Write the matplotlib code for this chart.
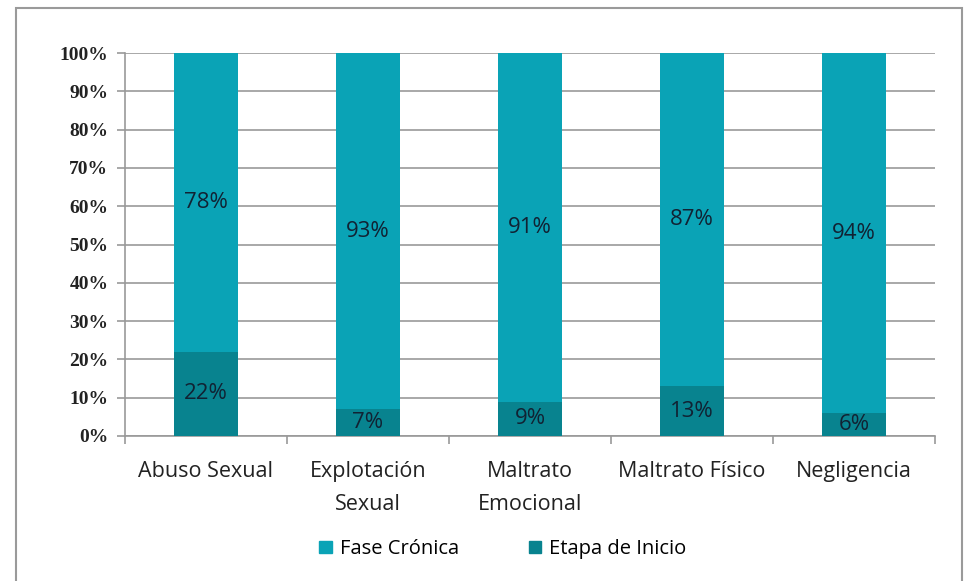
import matplotlib.pyplot as plt
from matplotlib.patches import Rectangle
import numpy as np

categories = ['Abuso Sexual', 'Explotación\nSexual', 'Maltrato\nEmocional', 'Maltrato Físico', 'Negligencia']
etapa_inicio = [22, 7, 9, 13, 6]
fase_cronica = [78, 93, 91, 87, 94]
yticks = [0, 10, 20, 30, 40, 50, 60, 70, 80, 90, 100]

c_cron = '#0aa3b6'
c_ini = '#08838f'

fig = plt.figure(figsize=(9.75, 5.81), dpi=100)
ax = fig.add_axes([125/975, 1-436/581, 810/975, 383/581])

# outer frame of the chart
fig.patches.append(Rectangle((16/975, -0.05), 946/975, 1.05 - 8/581, transform=fig.transFigure,
                             fill=False, edgecolor='#9a9a9a', linewidth=1.5))

x = np.arange(len(categories))
w = 0.4
ax.bar(x, etapa_inicio, w, color=c_ini, zorder=3)
ax.bar(x, fase_cronica, w, bottom=etapa_inicio, color=c_cron, zorder=3)

for i in range(len(categories)):
    ax.text(x[i], etapa_inicio[i] / 2, f'{etapa_inicio[i]}%', ha='center', va='center',
            fontsize=16, color='#112233', family='Open Sans', zorder=4)
    ax.text(x[i], etapa_inicio[i] + fase_cronica[i] / 2, f'{fase_cronica[i]}%', ha='center', va='center',
            fontsize=16, color='#112233', family='Open Sans', zorder=4)

ax.set_xlim(-0.5, len(categories) - 0.5)
ax.set_ylim(0, 100)
ax.set_yticks(yticks)
ax.set_yticklabels([f'{v}%' for v in yticks], fontsize=14, fontweight='bold',
                   family='Liberation Serif', color='#222222')
ax.yaxis.grid(True, color='#999999', linewidth=1.2, zorder=0)
ax.tick_params(axis='y', length=6, color='#999999', width=1.2, pad=6)

ax.set_xticks(x)
ax.set_xticklabels(categories, fontsize=15.5, family='Open Sans', color='#222222', linespacing=1.75)
ax.set_xticks(np.arange(len(categories) + 1) - 0.5, minor=True)
ax.tick_params(axis='x', which='major', length=0, pad=18)
ax.tick_params(axis='x', which='minor', length=6, color='#999999', width=1.2)

for s in ['top', 'right']:
    ax.spines[s].set_visible(False)
ax.spines['left'].set_color('#999999')
ax.spines['bottom'].set_color('#999999')
ax.spines['left'].set_linewidth(1.2)
ax.spines['bottom'].set_linewidth(1.2)

h1 = Rectangle((0, 0), 1, 1, color=c_cron)
h2 = Rectangle((0, 0), 1, 1, color=c_ini)
fig.legend([h1, h2], ['Fase Crónica', 'Etapa de Inicio'], loc='center', bbox_to_anchor=(503/975, 1-549/581),
           ncol=2, frameon=False, prop={'family': 'Open Sans', 'size': 14.5},
           handlelength=0.6, handleheight=0.6, handletextpad=0.4, columnspacing=3.5)

fig.savefig('out.png', dpi=100)
